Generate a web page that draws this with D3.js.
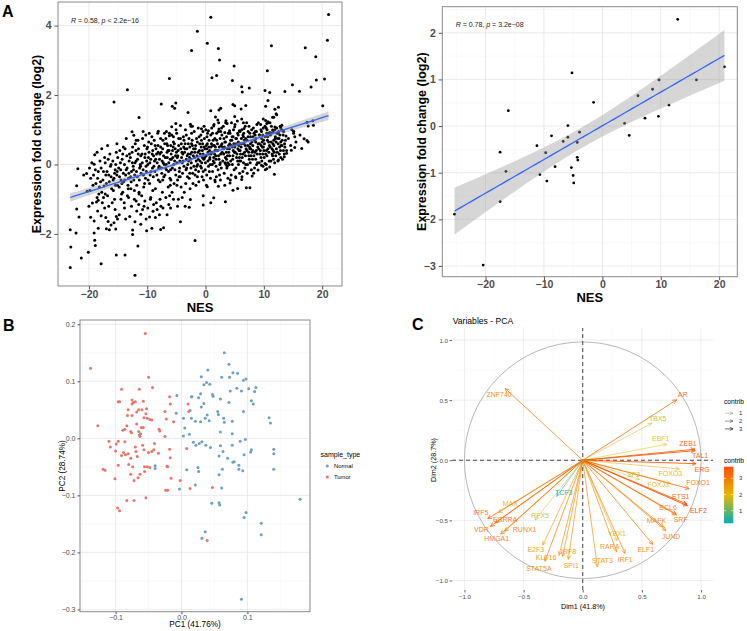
<!DOCTYPE html>
<html>
<head>
<meta charset="utf-8">
<script src="https://cdn.jsdelivr.net/npm/d3@7"></script>
<style>
  body { margin: 0; background: #fff; }
  text { font-family: "Liberation Sans", Arial, sans-serif; }
</style>
</head>
<body>
<svg id="fig" width="747" height="631"></svg>
<script>
// ---------- datos ----------
// Panel A izquierda: NES vs log2 fold change (todos los genes) [NES, log2FC]
var nesFcAll = [
  [0.9,4.24],[21.1,4.32],[-1.4,3.84],[0.3,3.49],[20.9,3.58],[17.1,3.36],[11.3,3.42],[2.2,3.34],[-2.4,3.28],[2.4,3.01],
  [18.9,3.10],[4.9,2.84],[1.1,2.50],[1.9,2.56],[-6.2,2.48],[4.6,2.42],[10.6,2.70],[20.4,2.46],[19.0,2.43],[14.9,2.30],
  [6.2,2.24],[7.5,2.20],[6.3,2.09],[10.2,2.13],[11.0,2.07],[13.6,2.10],[16.1,2.11],[18.1,2.23],[-13.4,2.15],[-15.7,1.80],
  [-7.6,1.74],[-5.1,1.77],[-5.7,1.68],[-5.3,1.62],[0.9,1.55],[2.3,1.57],[2.6,1.62],[4.7,1.73],[5.0,1.69],[6.1,1.60],
  [6.9,1.70],[10.7,1.84],[10.3,1.68],[11.9,1.59],[12.5,1.65],[12.2,1.43],[11.7,1.36],[20.1,1.69],[-3.0,1.50],[-11.4,1.35],
  [17.4,1.22],[18.4,1.26],[18.5,1.13],[17.6,1.11],[15.1,0.96],[15.3,0.80],[16.9,0.74],[17.4,0.69],[-5.1,1.18],[-4.3,1.12],
  [-2.6,1.16],[-2.5,1.10],[-12.6,0.94],[-12.3,0.84],[-8.1,0.96],[-6.7,0.95],[-6.2,0.83],[-5.8,1.09],[9.9,1.31],[10.3,1.27],
  [10.5,1.18],[10.7,1.23],[11.5,1.36],[12.1,1.46],[5.0,1.38],[6.2,1.31],[6.5,1.20],[6.6,1.04],[5.0,1.09],[5.8,0.97],
  [1.7,1.37],[2.1,1.28],[3.5,1.26],[3.7,1.18],[-0.7,1.03],[0.5,0.97],[1.4,1.11],[2.3,1.02],[3.3,0.92],[4.1,0.97],
  [13.1,1.13],[12.9,1.05],[11.9,1.08],[11.5,0.99],[11.0,0.92],[13.3,0.97],[13.8,0.82],
  [-23.2,-2.97],[-23.1,-2.38],[-23.2,-1.88],[-22.2,-1.97],[-21.3,-2.69],[-20.1,-2.53],[-17.9,-2.86],[-15.3,-2.61],[-13.8,-2.61],[-12.1,-3.19],
  [-11.6,-2.35],[-12.5,-2.02],[-12.5,-1.89],[-1.8,-2.19],[-4.3,-1.65],[-21.9,-0.12],[-22.1,-0.61],[-20.9,-0.30],[-20.4,-0.26],[-20.3,-0.77],
  [-22.1,-1.28],[-21.7,-1.51],[-20.0,-1.20],[-19.7,-1.52],[-19.1,-1.63],[-18.4,-1.84],[-19.4,-1.11],[-19.1,-1.97],[-19.0,-2.18],[-18.9,-2.33],
  [-19.0,0.28],[-19.1,0.01],[-18.4,-1.03],[-18.7,-1.08],[-18.5,-1.34],[-17.9,-1.48],[-17.1,-1.53],[-17.0,-1.85],[-16.5,-1.88],[-16.7,-1.64],
  [-15.3,-1.50],[-15.1,-1.57],[-15.4,-1.86],[-15.7,-1.68],[-16.2,-1.74],[-13.7,-1.57],[-12.1,-1.65],[-11.1,-1.72],[-10.2,-1.57],[-9.2,-1.84],
  [-7.7,-1.87],[-10.1,-1.91],[-11.8,-1.34],[-11.1,-1.43],[-9.6,-1.51],[-8.6,-1.53],[-7.9,-1.45],[-6.6,-1.45],[-7.2,-1.82],[-2.6,-1.01],
  [-2.8,-1.23],[-0.4,-1.17],[0.9,-1.10],[1.4,-0.96],[3.4,-1.07],[-0.4,-0.90],[4.7,-0.74],[5.5,-0.69],[7.0,-0.67],[7.6,-0.67],
  [8.0,-0.33],[11.8,-0.28],[16.5,0.46],[15.3,0.49],[17.6,0.65],[0.3,-0.64],[2.2,-0.63],[3.3,-0.60],[1.6,-0.45],[4.2,-0.53],
  [5.2,-0.38],[6.2,-0.43],[9.6,-0.02],[10.2,0.03],[9.0,-0.16],[10.5,-0.12],[11.0,-0.07],[12.5,0.13],[13.5,0.22],[13.9,0.32],[14.7,0.41],
  [-14.5,-1.0],[-13.9,-1.25],[-13.2,-0.95],[-12.7,-1.2],[-11.9,-1.05],[-11.4,-0.85],[-10.8,-1.3],[-10.4,-1.05],[-9.9,-1.25],[-9.4,-0.95],
  [-8.9,-1.15],[-8.3,-1.3],[-7.8,-1.0],[-7.3,-1.25],[-6.8,-0.95],[-6.3,-1.15],[-5.5,-1.0],[-4.8,-1.2],[-4.0,-0.95],[-3.5,-1.2],
  [-16.0,-1.1],[-15.5,-1.3],[-17.3,-1.25],[-14.8,-1.45],[-13.0,-1.5],[-9.0,-1.35],[-6.0,-1.25],[-12.2,-0.75],[-14.2,-0.8],[-17.5,-0.95],
  [-16.8,0.55],[-15.2,0.6],[-13.6,0.75],[-14.1,0.5],[-11.9,0.7],[-10.7,0.95],[-17.8,0.45],[-18.6,0.35],
  [-19.5,0.05],[-19.2,-0.3],[-18.8,-0.55],[-18.4,-0.2],[-18.1,0.1],[-19.8,-0.75],[-18.6,-0.95],[-18.2,-0.65],
  [-17.9,-0.1],[-17.6,-0.45],[-17.3,0.2],[-17.1,-0.3],[-17.8,-0.8],[-17.4,-0.62],[-17.2,0.05],[-17.7,-1.1],
  [-16.9,-0.2],[-16.7,0.15],[-16.5,-0.5],[-16.3,-0.05],[-16.1,-0.7],[-16.8,-0.9],[-16.4,0.3],[-16.2,-0.35],[-16.6,-1.2],
  [-15.9,0.1],[-15.7,-0.4],[-15.5,-0.15],[-15.3,0.35],[-15.1,-0.6],[-15.8,-0.75],[-15.4,0.0],[-15.2,-0.3],[-15.6,-1.0],[-15.05,0.2],
  [-14.9,-0.1],[-14.7,0.4],[-14.5,-0.45],[-14.3,0.15],[-14.1,-0.25],[-14.8,-0.65],[-14.6,0.05],[-14.4,-0.85],[-14.2,0.3],[-14.05,-0.5],
  [-13.9,0.0],[-13.7,-0.3],[-13.5,0.25],[-13.3,-0.6],[-13.1,0.1],[-13.8,0.45],[-13.6,-0.15],[-13.4,-0.9],[-13.2,-0.4],[-13.05,0.3],[-13.95,-1.1],
  [-12.9,0.2],[-12.7,-0.2],[-12.5,0.5],[-12.3,-0.45],[-12.1,0.05],[-12.8,-0.7],[-12.6,0.35],[-12.4,-0.05],[-12.2,-1.0],[-12.05,0.6],[-12.85,-0.35],
  [-11.9,0.1],[-11.7,-0.35],[-11.5,0.45],[-11.3,-0.1],[-11.1,0.25],[-11.8,-0.6],[-11.6,0.7],[-11.4,-0.8],[-11.2,0.0],[-11.05,-0.25],[-11.95,0.4],[-11.45,-1.15],
  [-10.9,0.3],[-10.7,-0.15],[-10.5,0.55],[-10.3,-0.4],[-10.1,0.1],[-10.8,0.75],[-10.6,-0.65],[-10.4,0.2],[-10.2,-0.05],[-10.05,0.45],[-10.95,-0.9],[-10.55,-1.2],[-10.25,0.85],
  [-9.9,0.0],[-9.7,0.35],[-9.5,-0.3],[-9.3,0.6],[-9.1,-0.1],[-9.8,0.2],[-9.6,-0.55],[-9.4,0.15],[-9.2,0.8],[-9.05,-0.75],[-9.95,0.5],[-9.45,-1.0],[-9.15,0.3],[-9.65,0.9],
  [-8.9,0.25],[-8.7,-0.2],[-8.5,0.45],[-8.3,0.05],[-8.1,-0.45],[-8.8,0.7],[-8.6,-0.7],[-8.4,0.3],[-8.2,0.9],[-8.05,-0.1],[-8.95,-0.35],[-8.45,-1.1],[-8.15,0.55],[-8.75,0.1],
  [-7.9,0.15],[-7.7,0.5],[-7.5,-0.25],[-7.3,0.7],[-7.1,0.0],[-7.8,-0.5],[-7.6,0.35],[-7.4,-0.8],[-7.2,0.25],[-7.05,0.9],[-7.95,-0.05],[-7.45,0.1],[-7.15,-0.35],[-7.65,-1.2],[-7.35,0.45],
  [-6.9,0.2],[-6.7,-0.15],[-6.5,0.55],[-6.3,0.05],[-6.1,-0.4],[-6.8,0.75],[-6.6,0.35],[-6.4,-0.65],[-6.2,0.9],[-6.05,0.15],[-6.95,-0.3],[-6.45,0.4],[-6.15,-0.9],[-6.75,0.0],[-6.35,-0.2],
  [-5.9,0.3],[-5.7,-0.1],[-5.5,0.65],[-5.3,0.1],[-5.1,-0.3],[-5.8,0.85],[-5.6,0.2],[-5.4,-0.55],[-5.2,0.45],[-5.05,1.0],[-5.95,-0.45],[-5.45,0.0],[-5.15,0.25],[-5.75,-0.8],[-5.35,0.6],[-5.65,0.4],
  [-4.9,0.05],[-4.7,0.4],[-4.5,-0.2],[-4.3,0.75],[-4.1,0.2],[-4.8,-0.45],[-4.6,0.55],[-4.4,0.1],[-4.2,-0.65],[-4.05,0.35],[-4.95,0.9],[-4.45,-0.1],[-4.15,0.6],[-4.75,0.25],[-4.35,-0.35],[-4.65,-1.0],
  [-3.9,0.3],[-3.7,-0.05],[-3.5,0.6],[-3.3,0.15],[-3.1,-0.35],[-3.8,0.8],[-3.6,0.35],[-3.4,-0.55],[-3.2,0.45],[-3.05,0.0],[-3.95,-0.25],[-3.45,1.0],[-3.15,0.25],[-3.75,0.5],[-3.35,-0.15],[-3.65,-0.8],
  [-2.9,0.1],[-2.7,0.5],[-2.5,-0.1],[-2.3,0.7],[-2.1,0.25],[-2.8,-0.4],[-2.6,0.3],[-2.4,0.9],[-2.2,-0.25],[-2.05,0.45],[-2.95,0.6],[-2.45,0.05],[-2.15,-0.55],[-2.75,0.2],[-2.35,0.35],[-2.65,-0.7],[-2.25,1.1],
  [-1.9,0.2],[-1.7,0.55],[-1.5,-0.05],[-1.3,0.35],[-1.1,0.8],[-1.8,-0.3],[-1.6,0.1],[-1.4,0.65],[-1.2,-0.2],[-1.05,0.4],[-1.95,0.95],[-1.45,0.25],[-1.15,-0.5],[-1.75,0.45],[-1.35,0.0],[-1.65,-0.6],[-1.25,1.05],
  [-0.9,0.3],[-0.7,-0.1],[-0.5,0.6],[-0.3,0.15],[-0.1,0.45],[-0.8,0.85],[-0.6,-0.35],[-0.4,0.3],[-0.2,0.75],[-0.05,-0.15],[-0.95,0.1],[-0.45,0.95],[-0.15,0.2],[-0.75,0.5],[-0.35,-0.45],[-0.65,0.05],[-0.25,1.1],[-0.55,0.4],
  [0.1,0.25],[0.3,0.6],[0.5,-0.05],[0.7,0.4],[0.9,0.85],[0.2,-0.3],[0.4,0.1],[0.6,0.7],[0.8,0.0],[0.95,0.5],[0.05,1.0],[0.55,0.3],[0.85,-0.4],[0.25,0.45],[0.65,-0.2],[0.35,0.9],[0.75,0.2],[0.15,-0.6],
  [1.1,0.35],[1.3,0.7],[1.5,0.05],[1.7,0.5],[1.9,0.9],[1.2,-0.2],[1.4,0.2],[1.6,0.75],[1.8,-0.05],[1.95,0.4],[1.05,1.05],[1.55,0.3],[1.85,-0.35],[1.25,0.55],[1.65,-0.5],[1.45,1.15],[1.75,0.25],[1.15,0.0],
  [2.1,0.4],[2.3,0.15],[2.5,0.75],[2.7,-0.1],[2.9,0.5],[2.2,0.95],[2.4,-0.3],[2.6,0.3],[2.8,0.85],[2.95,0.1],[2.05,0.6],[2.55,-0.45],[2.85,0.35],[2.25,1.2],[2.65,0.55],[2.45,0.0],[2.75,1.05],[2.15,-0.15],
  [3.1,0.3],[3.3,0.65],[3.5,0.0],[3.7,0.45],[3.9,0.9],[3.2,-0.25],[3.4,0.2],[3.6,0.8],[3.8,0.05],[3.95,0.55],[3.05,1.1],[3.55,0.35],[3.85,-0.4],[3.25,0.5],[3.65,-0.1],[3.45,1.2],[3.75,0.25],[3.15,0.75],
  [4.1,0.45],[4.3,0.1],[4.5,0.7],[4.7,0.25],[4.9,-0.15],[4.2,0.9],[4.4,-0.3],[4.6,0.5],[4.8,1.0],[4.95,0.35],[4.05,0.0],[4.55,0.8],[4.85,0.6],[4.25,-0.45],[4.65,0.15],[4.45,1.2],[4.75,0.4],[4.15,0.6],
  [5.1,0.35],[5.3,0.75],[5.5,0.1],[5.7,0.55],[5.9,0.95],[5.2,-0.1],[5.4,0.3],[5.6,0.85],[5.8,0.2],[5.95,0.6],[5.05,1.15],[5.55,0.45],[5.85,-0.25],[5.25,0.6],[5.65,0.0],[5.45,1.25],[5.75,0.4],[5.15,-0.35],
  [6.1,0.5],[6.3,0.2],[6.5,0.8],[6.7,0.35],[6.9,0.0],[6.2,1.0],[6.4,-0.2],[6.6,0.6],[6.8,1.1],[6.95,0.45],[6.05,0.1],[6.55,0.9],[6.85,0.25],[6.25,-0.35],[6.65,0.7],[6.45,0.3],[6.75,-0.1],[6.15,0.75],
  [7.1,0.4],[7.3,0.8],[7.5,0.15],[7.7,0.6],[7.9,1.0],[7.2,0.0],[7.4,0.35],[7.6,0.9],[7.8,0.25],[7.95,0.65],[7.05,1.2],[7.55,0.5],[7.85,-0.15],[7.25,0.55],[7.65,0.05],[7.45,1.1],[7.75,0.45],[7.15,-0.25],
  [8.1,0.55],[8.3,0.25],[8.5,0.85],[8.7,0.4],[8.9,0.05],[8.2,1.05],[8.4,-0.1],[8.6,0.65],[8.8,1.15],[8.95,0.5],[8.05,0.15],[8.55,0.95],[8.85,0.3],[8.25,-0.25],[8.65,0.75],[8.45,0.35],[8.75,0.0],[8.15,0.8],
  [9.1,0.45],[9.3,0.85],[9.5,0.2],[9.7,0.65],[9.9,1.05],[9.2,0.05],[9.4,0.4],[9.6,0.95],[9.8,0.3],[9.95,0.7],[9.05,1.2],[9.55,0.55],[9.85,-0.05],[9.25,0.6],[9.65,0.1],[9.45,1.15],[9.75,0.5],
  [10.1,0.6],[10.3,0.3],[10.5,0.9],[10.7,0.45],[10.9,0.1],[10.2,1.1],[10.4,0.0],[10.6,0.7],[10.8,1.2],[10.95,0.55],[10.05,0.2],[10.55,1.0],[10.85,0.35],[10.25,-0.15],[10.65,0.8],[10.45,0.4],
  [11.1,0.5],[11.3,0.9],[11.5,0.25],[11.7,0.7],[11.9,1.0],[11.2,0.1],[11.4,0.45],[11.6,0.95],[11.8,0.35],[11.95,0.75],[11.05,1.2],[11.55,0.6],[11.85,0.05],[11.25,0.65],[11.65,0.15],
  [12.1,0.65],[12.3,0.35],[12.5,0.9],[12.7,0.5],[12.9,0.2],[12.2,1.05],[12.4,0.1],[12.6,0.75],[12.8,1.1],[12.95,0.55],[12.05,0.25],[12.55,0.95],[12.85,0.4],[12.45,0.6],
  [13.1,0.55],[13.3,0.85],[13.5,0.3],[13.7,0.7],[13.2,0.15],[13.4,0.95],[13.6,0.5],[13.9,0.4],[13.05,1.0],
  [14.2,0.75],[14.6,0.55],[15.1,0.9],[15.5,0.65],[14.8,1.0],[16.2,0.85]
];
// zona central más densa del mismo panel
var nesFcDense = [
  [-15.85,-0.45],[-15.45,-0.6],[-15.15,-0.2],[-14.75,-0.35],[-14.35,-0.55],[-13.85,-0.45],[-13.45,-0.1],[-13.15,-0.25],[-12.75,-0.5],[-12.35,-0.15],
  [-12.15,-0.3],[-15.6,-0.25],[-14.55,-0.15],[-13.25,-0.7],[-12.55,0.05],
  [-11.85,-0.2],[-11.65,0.15],[-11.35,-0.45],[-11.15,-0.05],[-10.85,0.05],[-10.65,-0.3],[-10.35,0.3],[-10.15,-0.2],[-9.85,-0.45],[-9.55,0.05],
  [-9.35,-0.2],[-9.05,0.4],[-8.85,-0.05],[-8.55,0.15],[-8.35,-0.3],[-8.12,0.35],[-11.55,0.3],[-10.45,-0.55],[-9.75,0.65],[-8.65,0.55],
  [-7.85,0.3],[-7.55,-0.1],[-7.25,0.05],[-7.0,0.6],[-6.85,-0.1],[-6.55,0.2],[-6.25,0.4],[-6.0,-0.15],[-5.85,0.15],[-5.55,0.5],
  [-5.25,-0.15],[-5.0,0.35],[-4.85,0.2],[-4.55,-0.35],[-4.25,0.45],[-4.0,0.05],[-7.7,0.75],[-6.65,0.6],[-5.5,0.8],[-4.6,0.75],
  [-7.35,-0.45],[-6.05,-0.6],[-4.9,-0.6],[-5.95,0.55],
  [-3.85,0.1],[-3.55,0.45],[-3.25,-0.1],[-3.0,0.3],[-2.85,0.75],[-2.55,0.15],[-2.25,0.55],[-2.0,-0.05],[-1.85,0.35],[-1.55,0.75],
  [-1.25,0.15],[-1.0,0.6],[-0.85,-0.05],[-0.55,0.2],[-0.25,0.5],[-0.02,0.05],[-3.7,0.7],[-2.7,-0.25],[-1.7,-0.15],[-0.7,0.7],
  [-3.3,0.85],[-1.4,-0.35],[-0.4,-0.2],[-2.4,0.6],
  [0.12,0.55],[0.42,0.35],[0.72,0.15],[1.02,0.6],[1.32,0.1],[1.62,0.4],[1.92,0.7],[2.22,0.25],[2.52,0.05],[2.82,0.6],
  [3.12,0.45],[3.42,0.65],[3.72,-0.05],[3.98,0.35],[0.25,0.8],[1.2,0.9],[2.35,0.5],[3.35,0.05],[0.58,0.5],[1.5,0.55],
  [2.6,0.95],[3.6,0.15],[1.8,0.15],[0.95,0.3],
  [4.12,0.25],[4.42,0.55],[4.72,0.8],[5.02,0.5],[5.32,0.2],[5.62,0.65],[5.92,0.4],[6.22,0.6],[6.52,0.05],[6.82,0.55],
  [7.12,0.7],[7.42,0.25],[7.72,0.8],[7.98,0.35],[4.6,0.0],[5.5,0.9],[6.4,0.85],[7.3,0.95],[4.3,0.7],[5.2,0.75],
  [6.0,0.3],[6.9,0.75],[7.6,0.45],[5.8,0.1],
  [8.12,0.4],[8.42,0.7],[8.72,0.95],[9.02,0.6],[9.32,0.3],[9.62,0.75],[9.92,0.5],[10.22,0.8],[10.52,0.25],[10.82,0.65],
  [11.12,0.85],[11.42,0.3],[11.72,0.55],[11.98,0.8],[8.6,0.15],[9.5,1.0],[10.4,1.05],[11.3,1.1],[8.3,0.9],[9.2,0.85],
  [10.0,0.4],[10.9,0.9],[11.6,0.4],[9.8,0.85],
  [12.15,0.45],[12.35,0.75],[12.65,0.3],[12.75,0.85],[13.15,0.7],[13.35,0.4],[13.55,0.6],[12.25,0.9],[12.9,0.65],
  [-19.7,-0.4],[-19.3,-0.6],[-18.9,-0.15],[-18.5,-0.4],[-18.0,-0.5],[-17.5,-0.2],[-17.0,-0.55],[-16.6,-0.3],[-16.2,0.0],[-19.9,-0.1],
  [-18.3,-0.85],[-17.2,-0.85]
];

// Panel A derecha: factores de transcripción [NES, log2FC]
var nesFcTF = [
  [12.9,2.29],[-5.2,1.14],[20.9,1.27],[9.7,0.99],[16.1,0.99],[8.6,0.79],[6.1,0.65],[-1.5,0.51],[11.4,0.45],[-16.1,0.33],
  [-5.9,0.01],[3.8,0.06],[7.3,0.17],[9.6,0.21],[-3.9,-0.13],[4.6,-0.20],[-8.7,-0.21],[-5.9,-0.24],[-6.7,-0.33],[-4.3,-0.35],
  [-11.2,-0.42],[-17.5,-0.56],[-9.7,-0.57],[-4.3,-0.67],[-4.2,-0.73],[-16.5,-0.97],[-8.1,-0.87],[-5.3,-0.89],[-10.7,-1.04],[-5.0,-1.06],
  [-9.5,-1.18],[-4.9,-1.22],[-17.5,-1.62],[-25.3,-1.89],[-20.4,-2.98]
];

var corR = ["0.58", "0.78"];
var corP = ["< 2.2e\u221216", "= 3.2e\u221208"];

// Panel B: PCA de muestras [PC1, PC2]
var pcaNormal = [
  [0.065,0.150],[0.072,0.130],[0.040,0.120],[0.078,0.115],[0.085,0.114],[0.030,0.108],[0.061,0.107],[0.073,0.107],[0.094,0.102],[0.098,0.104],
  [0.038,0.098],[0.043,0.095],[0.034,0.094],[0.084,0.088],[0.091,0.083],[0.102,0.087],[0.111,0.082],[0.113,0.089],[0.074,0.083],[0.016,0.073],
  [0.026,0.071],[0.029,0.078],[0.047,0.077],[0.048,0.074],[0.059,0.069],[0.072,0.063],[0.106,0.066],[0.109,0.060],[0.030,0.055],[0.034,0.061],
  [0.013,0.049],[0.039,0.041],[0.055,0.047],[0.056,0.042],[0.094,0.047],[0.133,0.036],[0.135,0.027],[0.003,0.035],[0.015,0.035],[0.021,0.030],
  [0.029,0.029],[0.036,0.035],[0.042,0.031],[0.064,0.035],[0.065,0.028],[0.077,0.030],[0.005,0.018],[0.003,0.004],[0.012,0.007],[0.059,0.011],
  [0.077,0.008],[0.089,-0.005],[0.097,-0.002],[0.018,-0.007],[0.022,-0.012],[0.027,-0.009],[0.031,-0.006],[0.037,-0.012],[0.044,-0.016],[0.059,-0.013],
  [0.063,-0.023],[0.077,-0.012],[0.095,-0.029],[0.105,-0.024],[0.106,-0.020],[0.057,-0.031],[0.070,-0.035],[0.078,-0.042],[0.080,-0.041],[0.087,-0.047],
  [0.087,-0.054],[0.093,-0.057],[0.140,-0.019],[0.140,-0.027],[0.140,-0.054],[0.008,-0.055],[0.025,-0.051],[0.026,-0.058],[0.062,-0.054],[0.057,-0.064],
  [-0.003,-0.089],[0.021,-0.082],[0.061,-0.087],[0.046,-0.114],[0.057,-0.113],[0.058,-0.117],[0.098,-0.130],[0.095,-0.139],[0.121,-0.149],[0.121,-0.169],
  [0.180,-0.107],[0.036,-0.164],[0.031,-0.175],[0.091,-0.282],[-0.062,0.008],[-0.040,-0.048],[-0.040,-0.053],[-0.007,0.075],[-0.008,0.044],[0.015,0.073]
];
var pcaTumor = [
  [-0.138,0.123],[-0.055,0.184],[-0.050,0.107],[-0.044,0.089],[-0.091,0.086],[-0.064,0.086],[-0.096,0.064],[-0.094,0.064],[-0.075,0.067],[-0.073,0.063],
  [-0.075,0.060],[-0.070,0.064],[-0.058,0.065],[-0.065,0.050],[-0.081,0.050],[-0.068,0.046],[-0.060,0.050],[-0.054,0.043],[-0.053,0.052],[-0.048,0.033],
  [-0.052,0.035],[-0.045,0.032],[-0.082,0.040],[-0.075,0.040],[-0.057,0.036],[-0.068,0.025],[-0.058,0.019],[-0.089,0.014],[-0.086,0.016],[-0.077,0.012],
  [-0.076,0.010],[-0.065,0.012],[-0.064,0.006],[-0.063,0.003],[-0.061,0.019],[-0.127,0.022],[-0.110,-0.005],[-0.108,-0.015],[-0.096,-0.005],[-0.086,-0.006],
  [-0.088,-0.025],[-0.085,-0.029],[-0.081,-0.027],[-0.077,-0.035],[-0.070,-0.015],[-0.069,-0.023],[-0.067,-0.032],[-0.059,-0.012],[-0.057,-0.020],[-0.050,-0.025],
  [-0.045,-0.023],[-0.041,-0.009],[-0.042,-0.020],[-0.035,-0.026],[-0.096,-0.047],[-0.080,-0.046],[-0.074,-0.050],[-0.077,-0.063],[-0.072,-0.074],[-0.066,-0.069],
  [-0.063,-0.063],[-0.056,-0.050],[-0.052,-0.050],[-0.056,-0.058],[-0.048,-0.051],[-0.119,-0.054],[-0.116,-0.056],[-0.101,-0.071],[-0.083,-0.109],[-0.072,-0.109],
  [-0.054,-0.104],[-0.097,-0.122],[-0.094,-0.127],[-0.018,0.073],[-0.017,0.060],[-0.025,0.047],[-0.023,0.034],[-0.012,0.029],[-0.018,-0.019],[-0.017,-0.034],
  [-0.025,0.003],[-0.034,0.016],[-0.033,0.013],[-0.022,-0.049],[-0.021,-0.050],[-0.016,-0.070],[-0.024,-0.091],[-0.021,-0.091],[-0.002,-0.074],[0.010,0.060],
  [0.011,0.047],[0.008,-0.018],[0.013,-0.088],[0.047,-0.086],[0.039,-0.179],[-0.100,-0.022],[-0.099,-0.010],[-0.091,-0.030],[-0.083,0.022]
];

// Panel C: variables del PCA (coordenadas y contribución)
var varNames   = ["ZNF740","AR","TBX5","EBF1","ZEB1","TAL1","ERG","FOXO3","SP2","FOXJ3","FOXO1","ETS1","ELF2","BCL6","SRF","MAFK","JUND","ELF1","YBX1","RARA","IRF1","STAT3","SPI1","IRF8","KLF16","STAT5A","E2F3","RFX5","TCF3","RUNX1","HMGA1","VDR","ESRRA","IRF5","MAX"];
var varDim1    = [-0.656,0.794,0.583,0.710,0.949,0.950,0.958,0.817,0.480,0.740,0.899,0.879,0.885,0.789,0.794,0.682,0.704,0.592,0.290,0.287,0.358,0.124,-0.122,-0.170,-0.200,-0.320,-0.338,-0.403,-0.220,-0.660,-0.693,-0.780,-0.740,-0.803,-0.713];
var varDim2    = [0.597,0.503,0.308,0.133,0.092,0.080,-0.028,-0.072,-0.160,-0.190,-0.236,-0.364,-0.378,-0.447,-0.456,-0.553,-0.586,-0.700,-0.670,-0.761,-0.775,-0.886,-0.824,-0.800,-0.790,-0.840,-0.705,-0.497,-0.300,-0.590,-0.613,-0.550,-0.520,-0.486,-0.436];
var varContrib = [3.0,3.2,1.7,2.0,3.5,3.5,3.6,2.2,1.7,2.0,3.3,3.5,3.72,3.1,3.1,2.9,2.9,3.0,2.2,2.7,2.8,2.7,2.6,2.7,2.7,2.9,2.5,1.7,0.22,3.0,3.0,3.3,3.2,3.3,2.4];

// desplazamiento (px) de cada etiqueta respecto a la punta de la flecha
var labelShift = {
  ZNF740:[-6,6], AR:[6,-5], TBX5:[6,-5], EBF1:[-6,-6], ZEB1:[-7,-6], TAL1:[5,5], ERG:[6,6], FOXO3:[-9,5],
  SP2:[-6,-5], FOXJ3:[-12,1], FOXO1:[9,-6], ETS1:[-6,-7], ELF2:[11,5], BCL6:[-8,-6], SRF:[4,5], MAFK:[-7,-6],
  JUND:[5,6], ELF1:[-7,5], YBX1:[0,-7], RARA:[-7,-5], IRF1:[0,6], STAT3:[5,-6], SPI1:[3,6], IRF8:[6,-5],
  KLF16:[-13,2.5], STAT5A:[-6,7], E2F3:[-7,5], RFX5:[5,-4], TCF3:[7,-4], RUNX1:[20,-2], HMGA1:[-4,5],
  VDR:[-9,3], ESRRA:[10,-3], IRF5:[-7,-6], MAX:[12,-9]
};

// ---------- utilidades ----------
var svg = d3.select("#fig");

// fondo estilo theme_bw: rejilla mayor y menor
function gridBW(g, x, y, grid, minorCol, majorCol) {
  var xr = x.range(), yr = y.range();
  g.append("rect").attr("x", xr[0]).attr("y", yr[1]).attr("width", xr[1] - xr[0]).attr("height", yr[0] - yr[1]).attr("fill", "#fff");
  [[grid.xMinor, grid.yMinor, minorCol, 0.5], [grid.xMajor, grid.yMajor, majorCol, 0.8]].forEach(function (s) {
    g.selectAll(null).data(s[0]).join("line")
      .attr("x1", d => x(d)).attr("x2", d => x(d)).attr("y1", yr[0]).attr("y2", yr[1])
      .attr("stroke", s[2]).attr("stroke-width", s[3]);
    g.selectAll(null).data(s[1]).join("line")
      .attr("y1", d => y(d)).attr("y2", d => y(d)).attr("x1", xr[0]).attr("x2", xr[1])
      .attr("stroke", s[2]).attr("stroke-width", s[3]);
  });
}

function borderBW(g, x, y) {
  var xr = x.range(), yr = y.range();
  g.append("rect").attr("x", xr[0]).attr("y", yr[1]).attr("width", xr[1] - xr[0]).attr("height", yr[0] - yr[1])
    .attr("fill", "none").attr("stroke", "#8a8a8a").attr("stroke-width", 1);
}

function axesFor(g, x, y, xTicks, yTicks, fmt, opt) {
  var xr = x.range(), yr = y.range();
  var ax = g.append("g").attr("transform", "translate(0," + yr[0] + ")")
    .call(d3.axisBottom(x).tickValues(xTicks).tickFormat(fmt).tickSize(opt.tick).tickPadding(opt.padX));
  var ay = g.append("g").attr("transform", "translate(" + xr[0] + ",0)")
    .call(d3.axisLeft(y).tickValues(yTicks).tickFormat(fmt).tickSize(opt.tick).tickPadding(opt.padY));
  [ax, ay].forEach(function (a) {
    a.select(".domain").remove();
    a.selectAll("line").attr("stroke", opt.tickCol);
    a.selectAll("text").attr("fill", opt.textCol).style("font-size", opt.size + "px")
      .style("font-weight", opt.bold ? "bold" : "normal").style("font-family", '"Liberation Sans", Arial, sans-serif');
  });
}

// ajuste lineal con banda de confianza al 95 %
function lmBand(pts) {
  var n = pts.length;
  var mx = d3.mean(pts, d => d[0]), my = d3.mean(pts, d => d[1]);
  var sxx = 0, sxy = 0;
  pts.forEach(function (d) { sxx += (d[0] - mx) * (d[0] - mx); sxy += (d[0] - mx) * (d[1] - my); });
  var b = sxy / sxx, a = my - b * mx;
  var s = Math.sqrt(d3.sum(pts, d => Math.pow(d[1] - a - b * d[0], 2)) / (n - 2));
  var t = 1.96 + 2.4 / (n - 2);
  var ext = d3.extent(pts, d => d[0]);
  return d3.range(0, 81).map(function (i) {
    var xv = ext[0] + (ext[1] - ext[0]) * i / 80;
    var se = s * Math.sqrt(1 / n + (xv - mx) * (xv - mx) / sxx);
    var f = a + b * xv;
    return { x: xv, f: f, lo: f - t * se, hi: f + t * se };
  });
}

function scatterNES(pts, x, y, grid, r, corIdx, corPos, titleX, titleY, nesY) {
  var g = svg.append("g");
  gridBW(g, x, y, grid, "#f2f2f2", "#e6e6e6");
  g.append("g").selectAll("circle").data(pts).join("circle")
    .attr("cx", d => x(d[0])).attr("cy", d => y(d[1])).attr("r", r).attr("fill", "#000");
  var band = lmBand(pts);
  g.append("path").datum(band)
    .attr("d", d3.area().x(d => x(d.x)).y0(d => y(d.lo)).y1(d => y(d.hi)))
    .attr("fill", "#999").attr("fill-opacity", 0.4);
  g.append("path").datum(band)
    .attr("d", d3.line().x(d => x(d.x)).y(d => y(d.f)))
    .attr("fill", "none").attr("stroke", "#3366FF").attr("stroke-width", 1.3);
  borderBW(g, x, y);
  var t = g.append("text").attr("x", corPos[0]).attr("y", corPos[1]).style("font-size", "7px").attr("fill", "#222");
  t.append("tspan").style("font-style", "italic").text("R");
  t.append("tspan").text(" = " + corR[corIdx] + ", ");
  t.append("tspan").style("font-style", "italic").text("p");
  t.append("tspan").text(" " + corP[corIdx]);
  g.append("text").attr("transform", "translate(" + titleX + "," + titleY + ") rotate(-90)")
    .attr("text-anchor", "middle").style("font-size", "12.5px").style("font-weight", "bold")
    .text("Expression fold change (log2)");
  var xr = x.range();
  g.append("text").attr("x", (xr[0] + xr[1]) / 2).attr("y", nesY).attr("text-anchor", "middle")
    .style("font-size", "13px").style("font-weight", "bold").text("NES");
  return g;
}

// ---------- Panel A izquierda ----------
var xA1 = d3.scaleLinear().domain([-25.3, 23.4]).range([58, 342]);
var yA1 = d3.scaleLinear().domain([-3.5, 4.68]).range([286, 2]);
var gA1 = scatterNES(nesFcAll.concat(nesFcDense), xA1, yA1,
  { xMajor: [-20, -10, 0, 10, 20], xMinor: [-25, -15, -5, 5, 15], yMajor: [-2, 0, 2, 4], yMinor: [-3, -1, 1, 3] },
  1.5, 0, [71, 22.5], 40.5, 144, 311.5);
axesFor(gA1, xA1, yA1, [-20, -10, 0, 10, 20], [-2, 0, 2, 4], d3.format("d"),
  { tick: 3.5, padX: 1, padY: 3, tickCol: "#555", textCol: "#4d4d4d", size: 10.5, bold: true });

// ---------- Panel A derecha ----------
var xA2 = d3.scaleLinear().domain([-27.4, 23.1]).range([442.3, 737.3]);
var yA2 = d3.scaleLinear().domain([-3.23, 2.56]).range([276.7, 6.7]);
var gA2 = scatterNES(nesFcTF, xA2, yA2,
  { xMajor: [-20, -10, 0, 10, 20], xMinor: [-25, -15, -5, 5, 15], yMajor: [-3, -2, -1, 0, 1, 2], yMinor: [-2.5, -1.5, -0.5, 0.5, 1.5, 2.5] },
  1.4, 1, [455.7, 26.5], 426, 141.7, 301.5);
axesFor(gA2, xA2, yA2, [-20, -10, 0, 10, 20], [-3, -2, -1, 0, 1, 2], d3.format("d"),
  { tick: 3.5, padX: 0.5, padY: 3, tickCol: "#555", textCol: "#4d4d4d", size: 10.5, bold: true });

svg.append("text").attr("x", 2).attr("y", 17).style("font-size", "16px").style("font-weight", "bold").text("A");

// ---------- Panel B ----------
var xB = d3.scaleLinear().domain([-0.154, 0.195]).range([80, 310]);
var yB = d3.scaleLinear().domain([-0.304, 0.2075]).range([611.7, 320]);
var colNormal = "#6C9FC4", colTumor = "#E8756B";
var gB = svg.append("g");
gridBW(gB, xB, yB, { xMajor: [-0.1, 0, 0.1], xMinor: [-0.15, -0.05, 0.05, 0.15],
  yMajor: [-0.3, -0.2, -0.1, 0, 0.1, 0.2], yMinor: [-0.25, -0.15, -0.05, 0.05, 0.15] }, "#f3f3f3", "#e6e6e6");
gB.append("g").selectAll("circle").data(pcaNormal).join("circle")
  .attr("cx", d => xB(d[0])).attr("cy", d => yB(d[1])).attr("r", 1.5).attr("fill", colNormal);
gB.append("g").selectAll("circle").data(pcaTumor).join("circle")
  .attr("cx", d => xB(d[0])).attr("cy", d => yB(d[1])).attr("r", 1.5).attr("fill", colTumor);
borderBW(gB, xB, yB);
axesFor(gB, xB, yB, [-0.1, 0, 0.1], [-0.3, -0.2, -0.1, 0, 0.1, 0.2], d3.format(".1f"),
  { tick: 2.5, padX: 1, padY: 2, tickCol: "#555", textCol: "#4d4d4d", size: 7, bold: false });
gB.append("text").attr("x", 195).attr("y", 627).attr("text-anchor", "middle").style("font-size", "8.2px").text("PC1 (41.76%)");
gB.append("text").attr("transform", "translate(64.5,466) rotate(-90)").attr("text-anchor", "middle").style("font-size", "8.2px").text("PC2 (28.74%)");
// leyenda
gB.append("text").attr("x", 320.5).attr("y", 456.5).style("font-size", "7px").text("sample_type");
[["Normal", colNormal], ["Tumor", colTumor]].forEach(function (d, i) {
  gB.append("circle").attr("cx", 327.3).attr("cy", 466 + i * 11).attr("r", 1.5).attr("fill", d[1]);
  gB.append("text").attr("x", 334).attr("y", 468 + i * 11).style("font-size", "5.8px").text(d[0]);
});
svg.append("text").attr("x", 3).attr("y", 331).style("font-size", "16px").style("font-weight", "bold").text("B");

// ---------- Panel C ----------
var xC = d3.scaleLinear().domain([-1.105, 1.101]).range([452, 713]);
var yC = d3.scaleLinear().domain([-1.079, 1.10]).range([590, 328]);
var cExt = d3.extent(varContrib);
var colC = d3.scaleLinear().domain([cExt[0], (cExt[0] + cExt[1]) / 2, cExt[1]]).range(["#00AFBB", "#E7B800", "#FC4E07"]);
var alphaC = d3.scaleLinear().domain(cExt).range([0.1, 1]);
var gC = svg.append("g");
gridBW(gC, xC, yC, { xMajor: [-1, -0.5, 0, 0.5, 1], xMinor: [-0.75, -0.25, 0.25, 0.75],
  yMajor: [-1, -0.5, 0, 0.5, 1], yMinor: [-0.75, -0.25, 0.25, 0.75] }, "#f4f4f4", "#e8e8e8");
gC.append("circle").attr("cx", xC(0)).attr("cy", yC(0))
  .attr("r", xC(1) - xC(0)).attr("fill", "none").attr("stroke", "#a6a6a6").attr("stroke-width", 0.8);
gC.append("line").attr("x1", xC(0)).attr("x2", xC(0)).attr("y1", yC.range()[0]).attr("y2", yC.range()[1])
  .attr("stroke", "#444").attr("stroke-width", 1).attr("stroke-dasharray", "4,3");
gC.append("line").attr("y1", yC(0)).attr("y2", yC(0)).attr("x1", xC.range()[0]).attr("x2", xC.range()[1])
  .attr("stroke", "#444").attr("stroke-width", 1).attr("stroke-dasharray", "4,3");
axesFor(gC, xC, yC, [-1, -0.5, 0, 0.5, 1], [-1, -0.5, 0, 0.5, 1], d3.format(".1f"),
  { tick: 2.5, padX: 2.5, padY: 1.5, tickCol: "#666", textCol: "#4d4d4d", size: 6.2, bold: false });

function arrowHead(x0, y0, x1, y1, len) {
  var ang = Math.atan2(y1 - y0, x1 - x0), sp = Math.PI / 7;
  return "M" + (x1 - len * Math.cos(ang - sp)) + "," + (y1 - len * Math.sin(ang - sp)) +
    "L" + x1 + "," + y1 + "L" + (x1 - len * Math.cos(ang + sp)) + "," + (y1 - len * Math.sin(ang + sp));
}

var gArr = gC.append("g");
varNames.forEach(function (name, i) {
  var x0 = xC(0), y0 = yC(0), x1 = xC(varDim1[i]), y1 = yC(varDim2[i]);
  var c = colC(varContrib[i]), a = Math.max(0.55, alphaC(varContrib[i]));
  gArr.append("line").attr("x1", x0).attr("y1", y0).attr("x2", x1).attr("y2", y1)
    .attr("stroke", c).attr("stroke-opacity", a).attr("stroke-width", 0.9);
  gArr.append("path").attr("d", arrowHead(x0, y0, x1, y1, 4.5))
    .attr("fill", "none").attr("stroke", c).attr("stroke-opacity", a).attr("stroke-width", 0.9);
});
varNames.forEach(function (name, i) {
  var sh = labelShift[name] || [0, 0];
  gC.append("text").attr("x", xC(varDim1[i]) + sh[0]).attr("y", yC(varDim2[i]) + sh[1] + 2.4)
    .attr("text-anchor", "middle").style("font-size", "7px")
    .attr("fill", colC(varContrib[i])).attr("fill-opacity", Math.max(0.9, alphaC(varContrib[i])))
    .text(name);
});
gC.append("text").attr("x", 583).attr("y", 608.5).attr("text-anchor", "middle").style("font-size", "7.2px").text("Dim1 (41.8%)");
gC.append("text").attr("transform", "translate(436,460) rotate(-90)").attr("text-anchor", "middle").style("font-size", "7.2px").text("Dim2 (28.7%)");
gC.append("text").attr("x", 452.7).attr("y", 324).style("font-size", "8.6px").text("Variables - PCA");
svg.append("text").attr("x", 412).attr("y", 330).style("font-size", "16px").style("font-weight", "bold").text("C");

// leyenda de transparencia (contrib)
var gL = svg.append("g");
gL.append("text").attr("x", 724).attr("y", 403.5).style("font-size", "6.7px").text("contrib");
[1, 2, 3].forEach(function (v, i) {
  var yy = 413.3 + i * 7.8;
  gL.append("line").attr("x1", 725).attr("x2", 733).attr("y1", yy).attr("y2", yy)
    .attr("stroke", "#000").attr("stroke-opacity", alphaC(v)).attr("stroke-width", 0.7);
  gL.append("path").attr("d", arrowHead(725, yy, 733, yy, 3.5)).attr("fill", "none")
    .attr("stroke", "#000").attr("stroke-opacity", alphaC(v)).attr("stroke-width", 0.7);
  gL.append("text").attr("x", 739).attr("y", yy + 2).style("font-size", "6px").attr("fill", "#333").text(v);
});

// barra de color (contrib)
var yBar = d3.scaleLinear().domain(cExt).range([523.3, 466.7]);
var grad = svg.append("defs").append("linearGradient").attr("id", "contribGrad")
  .attr("x1", 0).attr("y1", 1).attr("x2", 0).attr("y2", 0);
d3.range(0, 11).forEach(function (i) {
  var v = cExt[0] + (cExt[1] - cExt[0]) * i / 10;
  grad.append("stop").attr("offset", (i * 10) + "%").attr("stop-color", colC(v));
});
gL.append("text").attr("x", 724).attr("y", 462.5).style("font-size", "6.7px").text("contrib");
gL.append("rect").attr("x", 724).attr("y", yBar.range()[1]).attr("width", 9.3)
  .attr("height", yBar.range()[0] - yBar.range()[1]).attr("fill", "url(#contribGrad)");
[1, 2, 3].forEach(function (v) {
  gL.append("line").attr("x1", 724).attr("x2", 726).attr("y1", yBar(v)).attr("y2", yBar(v)).attr("stroke", "#fff").attr("stroke-width", 0.6);
  gL.append("line").attr("x1", 731.3).attr("x2", 733.3).attr("y1", yBar(v)).attr("y2", yBar(v)).attr("stroke", "#fff").attr("stroke-width", 0.6);
  gL.append("text").attr("x", 739).attr("y", yBar(v) + 2).style("font-size", "6px").attr("fill", "#333").text(v);
});
</script>
</body>
</html>
